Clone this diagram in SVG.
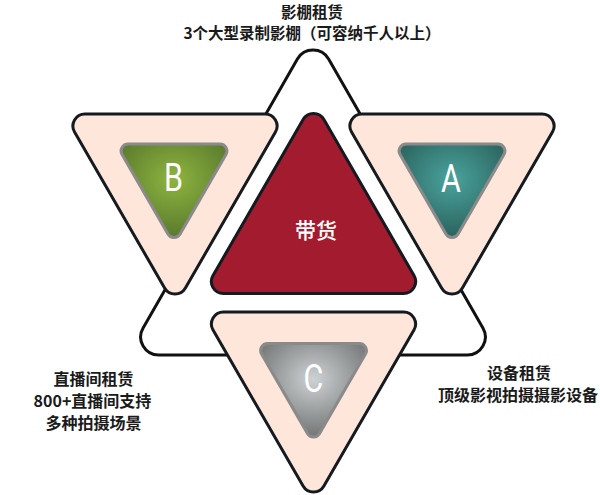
<svg xmlns="http://www.w3.org/2000/svg" xmlns:xlink="http://www.w3.org/1999/xlink" width="600" height="495" viewBox="0 0 600 495">
<style>
.lbl{font-family:"Noto Sans CJK SC","Liberation Sans",sans-serif;font-weight:bold;font-size:16px;fill:#1a1a1a;text-anchor:middle}
.top{font-size:15.5px}
.pink{fill:#FFE6DA;stroke:#141a1f;stroke-width:3}
.inner{stroke:#8a8a8a;stroke-width:3}
.letter{font-family:Roboto,"Liberation Sans",sans-serif;font-size:38px;fill:#ffffff;text-anchor:middle}
</style>
<defs>
<path id="pinkTri" d="M -90.05 0 L 90.05 0 A 12 12 0 0 1 100.45 18 L 10.4 174 A 12 12 0 0 1 -10.4 174 L -100.45 18 A 12 12 0 0 1 -90.05 0 Z"/>
<path id="innerTri" d="M -45.88 0 L 45.88 0 A 7 7 0 0 1 51.94 10.5 L 6.06 90 A 7 7 0 0 1 -6.06 90 L -51.94 10.5 A 7 7 0 0 1 -45.88 0 Z"/>
<radialGradient id="gGreen" cx="0.5" cy="0.38" r="0.6">
<stop offset="0" stop-color="#8DB540"/>
<stop offset="1" stop-color="#5B7B2D"/>
</radialGradient>
<radialGradient id="gTeal" cx="0.5" cy="0.38" r="0.6">
<stop offset="0" stop-color="#4AA39D"/>
<stop offset="1" stop-color="#2C645F"/>
</radialGradient>
<radialGradient id="gGray" cx="0.5" cy="0.38" r="0.6">
<stop offset="0" stop-color="#CDD2D4"/>
<stop offset="1" stop-color="#767878"/>
</radialGradient>
</defs>
<rect width="600" height="495" fill="#ffffff"/>
<g id="frame">
<path d="M 297.4 59 A 18 18 0 0 1 328.6 59 L 482.9 328 A 18 18 0 0 1 467.3 355 L 158.7 355 A 18 18 0 0 1 143.1 328 Z" fill="#ffffff" stroke="#111111" stroke-width="3"/>
</g>
<g id="center">
<path d="M 303.1 119.5 A 12 12 0 0 1 323.9 119.5 L 414 275.5 A 12 12 0 0 1 403.6 293.5 L 223.4 293.5 A 12 12 0 0 1 213 275.5 Z" fill="#A31B2E" stroke="#141a1f" stroke-width="3"/>
<text x="316" y="238" style="font-family:'Noto Sans CJK SC',sans-serif;font-weight:500;font-size:21px;fill:#ffffff;text-anchor:middle">带货</text>
</g>
<g id="nodeB">
<use xlink:href="#pinkTri" class="pink" transform="translate(175 114)"/>
<use xlink:href="#innerTri" class="inner" fill="url(#gGreen)" transform="translate(174 144)"/>
<text class="letter" transform="translate(173.5 190.5) scale(0.8 1)">B</text>
</g>
<g id="nodeA">
<use xlink:href="#pinkTri" class="pink" transform="translate(452 114)"/>
<use xlink:href="#innerTri" class="inner" fill="url(#gTeal)" transform="translate(452 144)"/>
<text class="letter" transform="translate(451 192) scale(0.8 1)">A</text>
</g>
<g id="nodeC">
<use xlink:href="#pinkTri" class="pink" transform="translate(313.5 312)"/>
<use xlink:href="#innerTri" class="inner" fill="url(#gGray)" transform="translate(313.5 343.5)"/>
<text class="letter" transform="translate(313.3 392) scale(0.8 1)">C</text>
</g>
<g id="labelTop">
<text class="lbl top" x="312" y="18">影棚租赁</text>
<text class="lbl top" x="312" y="39">3个大型录制影棚（可容纳千人以上）</text>
</g>
<g id="labelLeft">
<text class="lbl" x="93.5" y="385">直播间租赁</text>
<text class="lbl" x="92.5" y="407">800+直播间支持</text>
<text class="lbl" x="93.5" y="429">多种拍摄场景</text>
</g>
<g id="labelRight">
<text class="lbl" x="519" y="379">设备租赁</text>
<text class="lbl" x="518" y="401">顶级影视拍摄摄影设备</text>
</g>
</svg>
